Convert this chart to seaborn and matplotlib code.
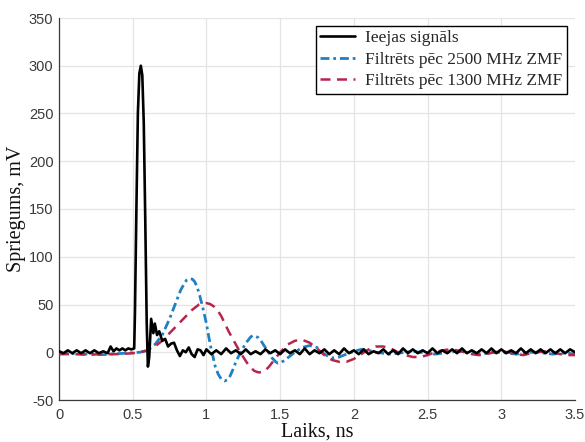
import numpy as np
import pandas as pd
import seaborn as sns
import matplotlib
matplotlib.use("Agg")
import matplotlib.pyplot as plt

# Input pulse (ns, mV)
t_in_head = [0.00, 0.03, 0.06, 0.09, 0.12, 0.15, 0.18, 0.21, 0.24, 0.27,
             0.30, 0.33, 0.35, 0.37, 0.39, 0.41, 0.43, 0.45, 0.47, 0.49,
             0.51, 0.515, 0.525, 0.535, 0.545, 0.555, 0.565, 0.575, 0.585, 0.595,
             0.603, 0.612, 0.625, 0.64, 0.65, 0.665, 0.68, 0.70, 0.72, 0.74,
             0.76, 0.78, 0.80, 0.82, 0.84, 0.86, 0.88, 0.90, 0.92, 0.94,
             0.96, 0.98]
v_in_head = [1, -1, 2, -1, 2, -1, 2, -1, 2, -1,
             1, -1, 6, 1, 4, 2, 4, 2, 4, 3,
             4, 40, 150, 250, 292, 300, 290, 240, 140, 30,
             -15, -5, 35, 20, 30, 18, 22, 12, 14, 6,
             9, 10, 2, -4, 2, 0, 5, -2, -5, 3,
             2, -3]
t_in_tail = np.linspace(1.0, 3.5, 76)
v_in_tail = [3, -2, 2, -2, 4, -1, 2, -2, 3, -2,
             1, -2, 3, -1, 2, -2, 3, -1, 2, -2,
             4, -2, 2, -1, 3, -2, 2, -2, 4, -1,
             2, -2, 3, -2, 1, -1, 3, -2, 2, -2,
             4, -1, 3, -1, 2, -1, 4, -1, 2, -1,
             3, -1, 4, -1, 2, -1, 3, -1, 4, -1,
             3, -1, 2, -1, 4, -1, 3, -1, 3, -1,
             3, -1, 3, -1, 3, 0]

# Filtered after 2500 MHz
t_f2500 = [0.00, 0.10, 0.20, 0.30, 0.40, 0.50, 0.55, 0.60, 0.65, 0.70,
           0.75, 0.80, 0.825, 0.85, 0.865, 0.885, 0.905, 0.92, 0.935, 0.95,
           0.975, 1.00, 1.015, 1.03, 1.06, 1.08, 1.10, 1.125, 1.14, 1.16,
           1.18, 1.20, 1.225, 1.25, 1.275, 1.30, 1.315, 1.33, 1.35, 1.37,
           1.395, 1.42, 1.445, 1.47, 1.485, 1.50, 1.525, 1.55, 1.60, 1.65,
           1.70, 1.75, 1.80, 1.85, 1.90, 1.95, 2.00,
           2.05, 2.10, 2.15, 2.20, 2.25, 2.30, 2.35, 2.40, 2.45, 2.50,
           2.55, 2.60, 2.65, 2.70, 2.75, 2.80, 2.85, 2.90, 2.95, 3.00,
           3.05, 3.10, 3.15, 3.20, 3.25, 3.30, 3.35, 3.40, 3.45, 3.50]
v_f2500 = [-1, -1.5, -2, -2.5, -1.5, -0.5, 0, 2, 8, 18,
           35, 55, 65, 72, 75.5, 77, 76.5, 74, 69, 62,
           47, 30, 17, 5, -15, -23, -28, -30, -29, -25,
           -18, -10, -2, 5, 11, 16, 17.5, 17, 15.5, 12,
           6, 0, -6, -10, -11.5, -11, -9, -6, 0, 5,
           7, 5, -2, -6, -5, -2, 1,
           3, 2, 0, -1, -2, -1, 0, 1, 0, -1,
           -2, -1, 0, 1, 0, -1, -2, -1, 0, 0,
           -1, -2, -1, 0, 0, -1, -2, -1, -1, -2]

# Filtered after 1300 MHz
t_f1300 = [0.00, 0.10, 0.20, 0.30, 0.40, 0.50, 0.55, 0.60, 0.65, 0.70,
           0.75, 0.80, 0.85, 0.90, 0.95, 0.975, 1.00, 1.025, 1.05, 1.075,
           1.10, 1.125, 1.15, 1.175, 1.20, 1.225, 1.25, 1.275, 1.30, 1.325,
           1.35, 1.375, 1.40, 1.425, 1.45, 1.475, 1.50, 1.55, 1.60, 1.65,
           1.70, 1.75, 1.80, 1.85, 1.90, 1.95, 2.00, 2.05, 2.10, 2.15,
           2.20, 2.25, 2.30, 2.35, 2.40, 2.45, 2.50, 2.55, 2.60, 2.65,
           2.70, 2.75, 2.80, 2.85, 2.90, 2.95, 3.00, 3.05, 3.10, 3.15,
           3.20, 3.25, 3.30, 3.35, 3.40, 3.45, 3.50]
v_f1300 = [-2, -2, -2.5, -2, -2, -1, 0, 2, 6, 12,
           20, 28, 36, 44, 50, 51, 51.5, 50.5, 48, 44,
           38, 30, 22, 15, 8, 1, -5, -11, -16, -19.5,
           -21, -21, -19, -15, -10, -5, 0, 8, 12, 13,
           10, 4, -3, -8, -10, -10, -7, -2, 3, 6,
           6, 4, 0, -3, -5, -5, -3, 0, 2, 3,
           2, 0, -2, -3, -2, 0, 1, 0, -2, -3,
           -1, 0, 1, 0, -2, -3, -3]

labels = ["Ieejas signāls", "Filtrēts pēc 2500 MHz ZMF", "Filtrēts pēc 1300 MHz ZMF"]

df_in = pd.DataFrame({"t": list(t_in_head) + list(t_in_tail),
                      "v": list(v_in_head) + list(v_in_tail)})
df_2500 = pd.DataFrame({"t": t_f2500, "v": v_f2500})
df_1300 = pd.DataFrame({"t": t_f1300, "v": v_f1300})

sns.set_theme(style="white")
plt.rcParams["font.family"] = ["Liberation Sans", "DejaVu Sans"]
plt.rcParams["axes.unicode_minus"] = False

fig = plt.figure(figsize=(5.85, 4.42), dpi=100)
ax = fig.add_axes([59 / 585, 1 - 400 / 442, 516 / 585, 382 / 442])

sns.lineplot(data=df_1300, x="t", y="v", ax=ax, color="#b8254c", lw=1.8,
             linestyle=(0, (4, 2.6)), label=labels[2], sort=False, zorder=3)
sns.lineplot(data=df_2500, x="t", y="v", ax=ax, color="#1f80c4", lw=2.0,
             linestyle=(0, (3.2, 1.4, 1.0, 1.4)), label=labels[1], sort=False, zorder=2)
sns.lineplot(data=df_in, x="t", y="v", ax=ax, color="black", lw=1.9,
             label=labels[0], sort=False, zorder=4)

ax.set_xlim(0, 3.5)
ax.set_ylim(-50, 350)
ax.set_xticks([0, 0.5, 1, 1.5, 2, 2.5, 3, 3.5])
ax.set_xticklabels(["0", "0.5", "1", "1.5", "2", "2.5", "3", "3.5"])
ax.set_yticks(range(-50, 351, 50))
ax.grid(True, color="#e4e4e4", lw=0.9)
ax.set_axisbelow(True)

for s in ["top", "right"]:
    ax.spines[s].set_visible(False)
for s in ["left", "bottom"]:
    ax.spines[s].set_color("#3a3a3a")
    ax.spines[s].set_linewidth(0.9)

ax.tick_params(axis="both", direction="in", length=4, width=0.8, color="#3a3a3a",
               labelsize=10.5, labelcolor="#3a3a3a", pad=6)
ax.tick_params(axis="y", pad=4)

serif = ["Liberation Serif", "DejaVu Serif"]
ax.set_xlabel("Laiks, ns", fontsize=14.5, family=serif, color="#111111", labelpad=0)
ax.set_ylabel("Spriegums, mV", fontsize=14.5, family=serif, color="#111111", labelpad=2)

handles, lbls = ax.get_legend_handles_labels()
order = [lbls.index(l) for l in labels]
leg = ax.legend([handles[i] for i in order], [lbls[i] for i in order],
                loc="upper right", bbox_to_anchor=((567 - 59) / 516, (400 - 26) / 382),
                prop={"family": serif, "size": 12.5}, frameon=True, fancybox=False,
                edgecolor="black", framealpha=1, handlelength=2.0, borderpad=0.25,
                labelspacing=0.3, handletextpad=0.6, borderaxespad=0)
leg.get_frame().set_linewidth(1.0)

fig.savefig("out.png", dpi=100, facecolor="white")
